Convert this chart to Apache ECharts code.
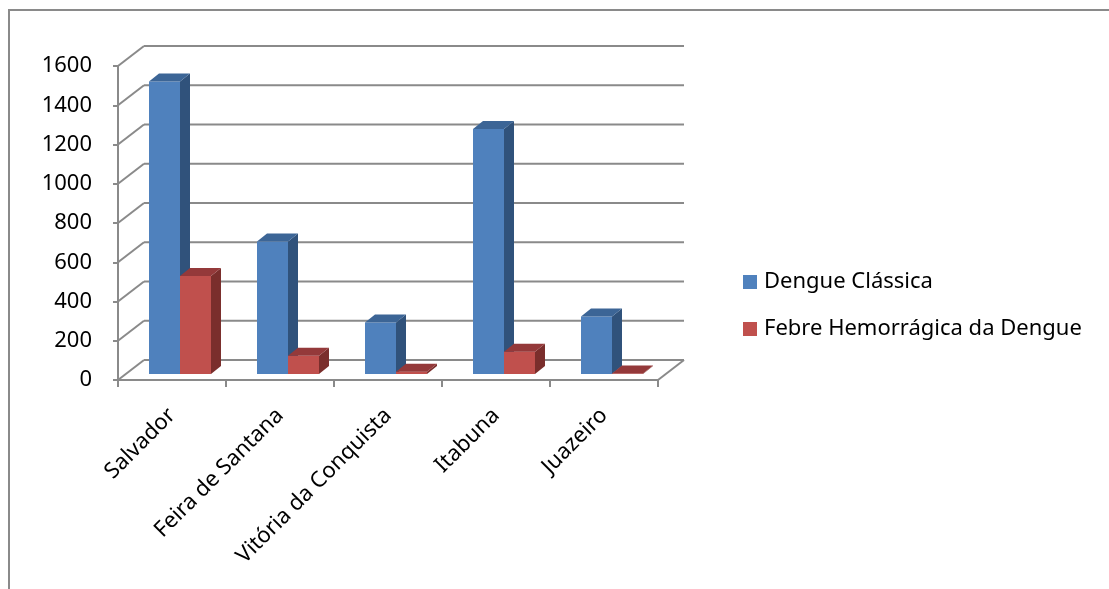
<!DOCTYPE html>
<html>
<head>
<meta charset="utf-8">
<script src="https://cdn.jsdelivr.net/npm/echarts@6/dist/echarts.min.js"></script>
<style>
  html, body { margin: 0; padding: 0; background: #fff; }
  #chart { width: 1109px; height: 589px; }
</style>
</head>
<body>
<div id="chart"></div>
<script>
// dados
var categories = ['Salvador', 'Feira de Santana', 'Vitória da Conquista', 'Itabuna', 'Juazeiro'];
var dengueClassica = [1490, 675, 262, 1248, 293];
var febreHemorragica = [500, 93, 12, 114, 3];
var yMax = 1600;
var yStep = 200;

// profundidade do "3D"
var WALL_DX = 26, WALL_DY = -20;   // parede do fundo
var PLANE_DX = 8, PLANE_DY = -6;   // plano onde ficam as barras
var BAR_DX = 10, BAR_DY = -8;      // espessura das barras

var chart = echarts.init(document.getElementById('chart'));

var wallValues = [];
for (var v = 0; v <= yMax; v += yStep) wallValues.push(v);

function wallItem(params, api) {
  var cs = params.coordSys;
  var val = api.value(0);
  var y = api.coord([0, val])[1];
  var style = { stroke: '#8a8a8a', lineWidth: 2 };
  var kids = [
    { type: 'line', shape: { x1: cs.x + WALL_DX, y1: y + WALL_DY, x2: cs.x + cs.width + WALL_DX, y2: y + WALL_DY }, style: style },
    { type: 'line', shape: { x1: cs.x, y1: y, x2: cs.x + WALL_DX, y2: y + WALL_DY }, style: style }
  ];
  if (val === 0) {
    kids.push({ type: 'line', shape: { x1: cs.x + cs.width, y1: y, x2: cs.x + cs.width + WALL_DX, y2: y + WALL_DY }, style: style });
  }
  return { type: 'group', children: kids };
}

function barItem(side, colors) {
  return function (params, api) {
    var cat = api.value(0);
    var val = api.value(1);
    var base = api.coord([cat, 0]);
    var top = api.coord([cat, val]);
    var band = api.size([1, 0])[0];
    var w = band * 0.287;
    var x0 = base[0] + PLANE_DX + (side === 0 ? -w : 0);
    var x1 = x0 + w;
    var yb = base[1] + PLANE_DY;
    var yt = top[1] + PLANE_DY;
    return {
      type: 'group',
      children: [
        { type: 'rect', shape: { x: x0, y: yt, width: w, height: yb - yt }, style: { fill: colors[0] } },
        { type: 'polygon', shape: { points: [[x1, yt], [x1 + BAR_DX, yt + BAR_DY], [x1 + BAR_DX, yb + BAR_DY], [x1, yb]] }, style: { fill: colors[1] } },
        { type: 'polygon', shape: { points: [[x0, yt], [x0 + BAR_DX, yt + BAR_DY], [x1 + BAR_DX, yt + BAR_DY], [x1, yt]] }, style: { fill: colors[2] } }
      ]
    };
  };
}

function pairs(arr) {
  return arr.map(function (v, i) { return [i, v]; });
}

var option = {
  backgroundColor: '#fff',
  animation: false,
  textStyle: { fontFamily: 'Noto Sans' },
  graphic: [{
    type: 'rect',
    shape: { x: 9, y: 10, width: 1300, height: 800 },
    style: { fill: 'none', stroke: '#8a8a8a', lineWidth: 2 },
    silent: true
  }],
  legend: {
    orient: 'vertical',
    left: 743,
    top: 271,
    padding: 0,
    icon: 'rect',
    itemWidth: 14,
    itemHeight: 14,
    itemGap: 25,
    textStyle: { fontSize: 22, color: '#000', fontFamily: 'Noto Sans', padding: [0, 0, 0, 2] },
    data: [
      { name: 'Dengue Clássica', itemStyle: { color: '#4F81BD' } },
      { name: 'Febre Hemorrágica da Dengue', itemStyle: { color: '#C0504D' } }
    ]
  },
  grid: { left: 118, right: 451, top: 66, bottom: 209 },
  xAxis: {
    type: 'category',
    data: categories,
    boundaryGap: true,
    axisLine: { lineStyle: { color: '#8a8a8a', width: 2 } },
    axisTick: { show: true, length: 7, lineStyle: { color: '#8a8a8a', width: 2 } },
    axisLabel: {
      interval: 0,
      rotate: 45,
      fontSize: 22,
      color: '#000',
      margin: 32
    }
  },
  yAxis: {
    type: 'value',
    min: 0,
    max: yMax,
    interval: yStep,
    axisLine: { show: true, lineStyle: { color: '#8a8a8a', width: 2 } },
    axisTick: { show: true, length: 5, lineStyle: { color: '#8a8a8a', width: 2 } },
    splitLine: { show: false },
    axisLabel: {
      fontSize: 22,
      color: '#000',
      margin: 26,
      formatter: function (v) { return String(v); }
    }
  },
  series: [
    {
      type: 'custom',
      name: 'wall',
      renderItem: wallItem,
      data: wallValues,
      encode: { y: 0 },
      z: 1,
      silent: true
    },
    {
      type: 'custom',
      name: 'Dengue Clássica',
      renderItem: barItem(0, ['#4F81BD', '#30527B', '#3C6596']),
      data: pairs(dengueClassica),
      encode: { x: 0, y: 1 },
      itemStyle: { color: '#4F81BD' },
      z: 3
    },
    {
      type: 'custom',
      name: 'Febre Hemorrágica da Dengue',
      renderItem: barItem(1, ['#C0504D', '#7A2E2C', '#94393A']),
      data: pairs(febreHemorragica),
      encode: { x: 0, y: 1 },
      itemStyle: { color: '#C0504D' },
      z: 4
    }
  ]
};

chart.setOption(option);
</script>
</body>
</html>
